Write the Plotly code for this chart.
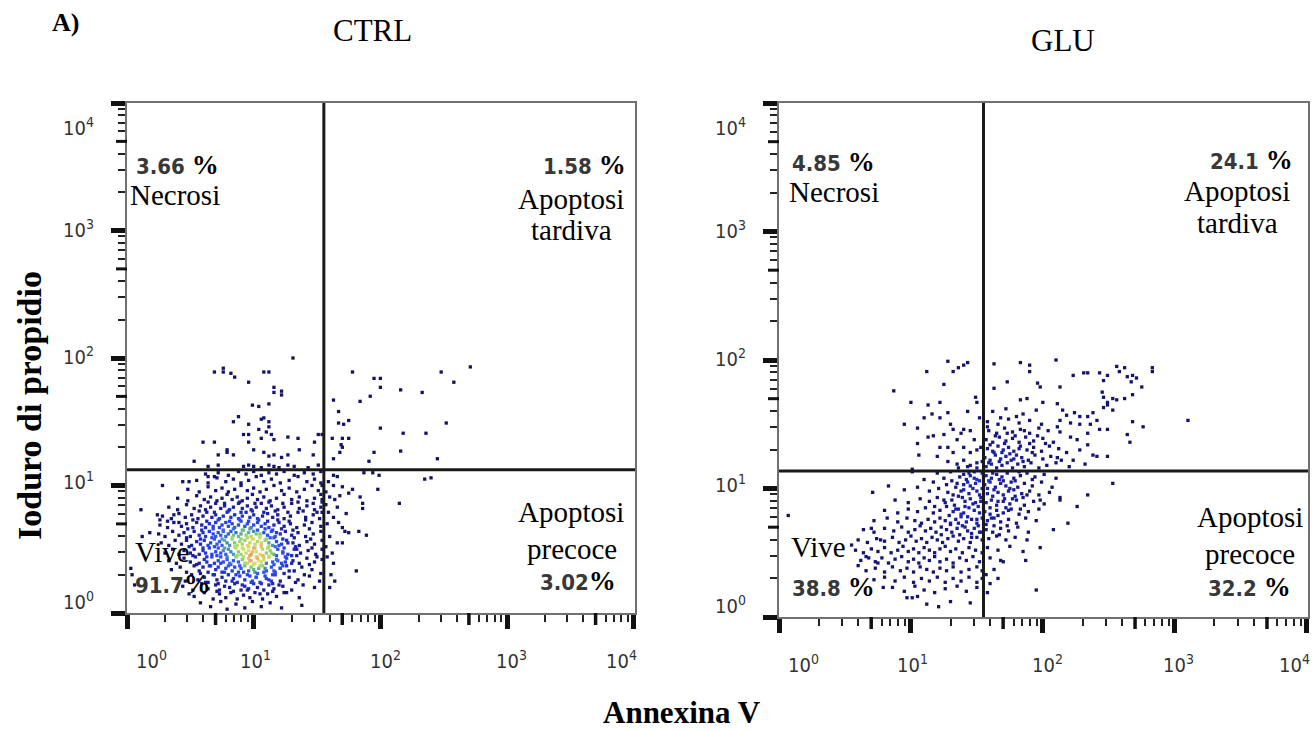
import numpy as np
import plotly.graph_objects as go

# Events as (log10 Annexin V, log10 propidium iodide), grouped by quadrant.
ctrl_ll = [
    (0.66,0.05),(0.74,0.09),(0.79,0.03),(0.86,0.07),(0.93,0.04),(0.99,0.09),(1.06,0.05),(1.13,0.08),(1.22,0.04),
    (0.53,0.13),(0.61,0.16),(0.68,0.11),(0.73,0.15),(0.78,0.12),(0.84,0.17),(0.87,0.11),(0.92,0.14),(0.97,0.12),(1.01,0.16),(1.07,0.11),(1.11,0.15),(1.18,0.13),(1.26,0.16),(1.36,0.12),
    (0.44,0.21),(0.52,0.18),(0.59,0.23),(0.64,0.19),(0.70,0.22),(0.73,0.18),(0.77,0.21),(0.81,0.20),(0.85,0.23),(0.90,0.18),(0.93,0.21),(0.96,0.19),(1.00,0.23),(1.03,0.20),(1.08,0.18),(1.12,0.22),(1.16,0.19),(1.23,0.21),(1.30,0.18),(1.39,0.22),(1.48,0.20),
    (0.39,0.27),(0.46,0.25),(0.51,0.30),(0.56,0.26),(0.61,0.28),(0.64,0.24),(0.68,0.30),(0.71,0.26),(0.75,0.28),(0.78,0.25),(0.80,0.30),(0.84,0.27),(0.87,0.24),(0.89,0.29),(0.93,0.26),(0.95,0.30),(0.99,0.25),(1.02,0.28),(1.05,0.24),(1.09,0.29),(1.12,0.26),(1.17,0.30),(1.21,0.25),(1.28,0.28),(1.35,0.26),(1.44,0.29),(1.52,0.25),
    (0.35,0.34),(0.42,0.36),(0.47,0.32),(0.53,0.37),(0.57,0.33),(0.60,0.36),(0.64,0.32),(0.66,0.37),(0.70,0.34),(0.72,0.36),(0.75,0.32),(0.78,0.35),(0.80,0.37),(0.83,0.33),(0.85,0.36),(0.88,0.32),(0.90,0.35),(0.93,0.37),(0.96,0.33),(0.98,0.36),(1.01,0.32),(1.04,0.35),(1.07,0.37),(1.10,0.33),(1.14,0.36),(1.17,0.32),(1.21,0.35),(1.26,0.37),(1.32,0.33),(1.38,0.36),(1.46,0.34),(1.53,0.31),
    (0.33,0.41),(0.39,0.39),(0.45,0.43),(0.50,0.40),(0.54,0.44),(0.57,0.39),(0.61,0.42),(0.63,0.40),(0.67,0.44),(0.69,0.39),(0.72,0.41),(0.74,0.44),(0.76,0.40),(0.79,0.42),(0.81,0.39),(0.84,0.41),(0.86,0.44),(0.88,0.40),(0.91,0.42),(0.93,0.39),(0.96,0.43),(0.98,0.41),(1.01,0.39),(1.03,0.43),(1.06,0.40),(1.08,0.42),(1.12,0.44),(1.15,0.40),(1.18,0.42),(1.22,0.39),(1.26,0.43),(1.31,0.41),(1.36,0.39),(1.42,0.43),(1.48,0.40),(1.54,0.42),
    (0.30,0.47),(0.36,0.50),(0.41,0.46),(0.45,0.49),(0.50,0.47),(0.53,0.50),(0.57,0.46),(0.60,0.49),(0.62,0.47),(0.65,0.51),(0.67,0.46),(0.70,0.48),(0.72,0.51),(0.74,0.47),(0.76,0.49),(0.78,0.46),(0.80,0.50),(0.82,0.48),(0.84,0.46),(0.86,0.51),(0.88,0.48),(0.90,0.46),(0.92,0.50),(0.94,0.47),(0.96,0.49),(0.98,0.46),(1.00,0.51),(1.02,0.48),(1.05,0.46),(1.07,0.50),(1.10,0.47),(1.13,0.49),(1.16,0.46),(1.19,0.50),(1.23,0.48),(1.27,0.46),(1.32,0.50),(1.37,0.47),(1.43,0.49),(1.49,0.46),(1.54,0.50),
    (0.27,0.55),(0.33,0.53),(0.38,0.57),(0.43,0.54),(0.47,0.57),(0.51,0.53),(0.55,0.56),(0.58,0.54),(0.61,0.57),(0.64,0.53),(0.66,0.55),(0.69,0.58),(0.71,0.54),(0.73,0.56),(0.75,0.53),(0.77,0.57),(0.79,0.55),(0.81,0.53),(0.83,0.58),(0.85,0.55),(0.87,0.53),(0.89,0.56),(0.91,0.54),(0.93,0.57),(0.95,0.53),(0.97,0.55),(0.99,0.58),(1.01,0.54),(1.03,0.56),(1.06,0.53),(1.09,0.57),(1.12,0.55),(1.15,0.53),(1.18,0.56),(1.22,0.54),(1.26,0.57),(1.31,0.55),(1.36,0.53),(1.42,0.56),(1.48,0.54),(1.54,0.57),
    (0.25,0.62),(0.30,0.60),(0.36,0.64),(0.41,0.61),(0.45,0.63),(0.50,0.60),(0.53,0.64),(0.57,0.61),(0.60,0.63),(0.62,0.60),(0.65,0.64),(0.68,0.62),(0.70,0.60),(0.72,0.63),(0.74,0.61),(0.76,0.64),(0.78,0.60),(0.80,0.62),(0.82,0.64),(0.84,0.61),(0.86,0.63),(0.88,0.60),(0.90,0.62),(0.92,0.65),(0.94,0.61),(0.96,0.63),(0.98,0.60),(1.00,0.64),(1.02,0.62),(1.05,0.60),(1.08,0.63),(1.11,0.61),(1.14,0.64),(1.17,0.60),(1.21,0.62),(1.25,0.64),(1.30,0.61),(1.35,0.63),(1.41,0.60),(1.47,0.62),(1.53,0.64),
    (0.26,0.69),(0.32,0.67),(0.37,0.71),(0.43,0.68),(0.47,0.70),(0.52,0.67),(0.55,0.71),(0.59,0.69),(0.62,0.67),(0.65,0.70),(0.68,0.68),(0.70,0.71),(0.73,0.67),(0.75,0.69),(0.78,0.71),(0.80,0.68),(0.83,0.70),(0.85,0.67),(0.88,0.69),(0.90,0.72),(0.93,0.68),(0.95,0.70),(0.98,0.67),(1.00,0.69),(1.03,0.71),(1.06,0.68),(1.09,0.70),(1.12,0.67),(1.16,0.69),(1.20,0.71),(1.24,0.68),(1.29,0.70),(1.34,0.67),(1.40,0.69),(1.46,0.71),(1.53,0.68),
    (0.28,0.76),(0.35,0.74),(0.41,0.78),(0.46,0.75),(0.51,0.77),(0.56,0.74),(0.60,0.76),(0.63,0.79),(0.67,0.75),(0.70,0.77),(0.73,0.74),(0.76,0.76),(0.79,0.79),(0.82,0.75),(0.85,0.77),(0.88,0.74),(0.91,0.76),(0.94,0.79),(0.97,0.75),(1.00,0.77),(1.03,0.74),(1.07,0.76),(1.11,0.78),(1.15,0.75),(1.19,0.77),(1.24,0.74),(1.29,0.76),(1.35,0.79),(1.41,0.75),(1.47,0.77),(1.52,0.74),(1.54,0.79),
    (0.33,0.83),(0.40,0.81),(0.47,0.85),(0.53,0.82),(0.58,0.84),(0.62,0.81),(0.66,0.83),(0.70,0.86),(0.74,0.82),(0.77,0.84),(0.81,0.81),(0.84,0.83),(0.88,0.86),(0.91,0.82),(0.95,0.84),(0.98,0.81),(1.02,0.83),(1.06,0.86),(1.10,0.82),(1.14,0.84),(1.19,0.81),(1.24,0.83),(1.30,0.86),(1.36,0.82),(1.42,0.84),(1.48,0.81),(1.53,0.83),(1.54,0.87),
    (0.40,0.90),(0.48,0.88),(0.55,0.92),(0.61,0.89),(0.66,0.91),(0.71,0.88),(0.75,0.90),(0.79,0.93),(0.83,0.89),(0.87,0.91),(0.91,0.88),(0.95,0.90),(0.99,0.93),(1.03,0.89),(1.08,0.91),(1.13,0.88),(1.18,0.90),(1.24,0.93),(1.30,0.89),(1.36,0.91),(1.42,0.88),(1.48,0.90),(1.53,0.93),(1.54,0.89),
    (0.48,0.97),(0.57,0.95),(0.64,0.99),(0.70,0.96),(0.75,0.98),(0.80,0.95),(0.85,0.97),(0.90,1.00),(0.95,0.96),(1.00,0.98),(1.05,0.95),(1.10,0.97),(1.16,1.00),(1.22,0.96),(1.28,0.98),(1.34,0.95),(1.40,0.97),(1.46,1.00),(1.51,0.96),(1.54,1.00),
    (0.55,1.04),(0.64,1.02),(0.71,1.06),(0.78,1.03),(0.84,1.05),(0.90,1.02),(0.96,1.04),(1.02,1.07),(1.08,1.03),(1.14,1.05),(1.21,1.02),(1.28,1.04),(1.35,1.07),(1.42,1.03),(1.48,1.05),(1.53,1.02),
    (0.62,1.09),(0.72,1.10),(0.80,1.08),(0.88,1.11),(0.94,1.09),(1.00,1.11),(1.06,1.08),(1.12,1.10),(1.18,1.09),(1.24,1.11),(1.32,1.08),(1.40,1.10),(1.47,1.09),(1.53,1.11),
    (0.11,0.81),(0.24,0.77),(0.26,0.73),(0.37,0.77),(0.41,0.71),(0.32,0.72),(0.28,1.00),(0.44,1.03),(0.49,1.03),(0.64,1.07),(0.69,1.07),(0.12,0.60),(0.18,0.63),(0.04,0.30),(0.06,0.22),(0.03,0.35),(1.38,0.06),(0.58,0.08),(0.49,0.15),
]
# denser core of the live population
ctrl_core = [
    (0.71,0.17),(0.82,0.16),(0.95,0.18),(1.05,0.15),(1.15,0.17),(1.24,0.16),
    (0.62,0.24),(0.72,0.23),(0.83,0.25),(0.91,0.22),(0.98,0.24),(1.06,0.23),(1.14,0.25),(1.20,0.22),(1.33,0.24),
    (0.58,0.31),(0.69,0.30),(0.77,0.32),(0.86,0.30),(0.92,0.32),(0.97,0.29),(1.03,0.31),(1.08,0.32),(1.15,0.30),(1.24,0.31),(1.40,0.30),
    (0.55,0.38),(0.65,0.37),(0.74,0.39),(0.82,0.38),(0.89,0.37),(0.95,0.39),(1.00,0.38),(1.05,0.37),(1.10,0.39),(1.16,0.38),(1.23,0.37),(1.30,0.39),(1.44,0.38),
    (0.52,0.45),(0.63,0.44),(0.71,0.45),(0.79,0.44),(0.87,0.45),(0.92,0.44),(0.97,0.45),(1.02,0.44),(1.07,0.45),(1.12,0.44),(1.18,0.45),(1.25,0.44),(1.34,0.45),(1.50,0.44),
    (0.49,0.52),(0.60,0.51),(0.69,0.52),(0.77,0.51),(0.85,0.52),(0.91,0.51),(0.96,0.52),(1.01,0.51),(1.06,0.52),(1.11,0.51),(1.17,0.52),(1.24,0.51),(1.33,0.52),(1.46,0.51),
    (0.47,0.59),(0.58,0.58),(0.67,0.59),(0.75,0.58),(0.83,0.59),(0.90,0.58),(0.95,0.59),(1.00,0.58),(1.05,0.59),(1.10,0.58),(1.16,0.59),(1.23,0.58),(1.32,0.59),(1.45,0.58),
    (0.48,0.66),(0.59,0.65),(0.68,0.66),(0.76,0.65),(0.84,0.66),(0.91,0.65),(0.97,0.66),(1.03,0.65),(1.09,0.66),(1.15,0.65),(1.22,0.66),(1.31,0.65),(1.44,0.66),
    (0.52,0.73),(0.63,0.72),(0.72,0.73),(0.81,0.72),(0.89,0.73),(0.96,0.72),(1.04,0.73),(1.11,0.72),(1.19,0.73),(1.28,0.72),(1.41,0.73),
    (0.57,0.80),(0.69,0.79),(0.80,0.80),(0.90,0.79),(0.99,0.80),(1.08,0.79),(1.17,0.80),(1.27,0.79),(1.39,0.80),(1.50,0.79),
    (0.64,0.87),(0.77,0.86),(0.89,0.87),(1.01,0.86),(1.12,0.87),(1.23,0.86),(1.35,0.87),(1.47,0.86),
    (1.04,0.41),(1.09,0.35),(1.14,0.47),(1.19,0.41),(1.00,0.34),(1.06,0.55),(1.13,0.59),(1.20,0.53),(1.25,0.40),(1.10,0.27),(1.16,0.33),(1.23,0.47),(0.99,0.48),
    (1.05,0.62),(1.18,0.63),(1.27,0.55),(1.02,0.28),(1.30,0.45),(1.12,0.52),(1.08,0.44),(0.97,0.41),(1.21,0.35),(1.15,0.23),(1.28,0.33),(1.34,0.50),
]
ctrl_ul = [
    (1.31,2.00),(0.69,1.89),(0.76,1.92),(0.76,1.89),(0.82,1.88),(0.85,1.85),(0.96,1.81),(1.08,1.89),(1.12,1.89),(1.16,1.77),(1.22,1.74),(1.22,1.71),(1.16,1.73),
    (0.99,1.63),(1.04,1.62),(1.12,1.64),(0.84,1.50),(0.88,1.54),(0.96,1.48),(1.06,1.52),(1.08,1.53),(1.12,1.50),(1.12,1.46),(1.04,1.44),(0.92,1.40),(0.96,1.40),
    (1.06,1.37),(1.10,1.42),(1.14,1.40),(1.16,1.36),(1.27,1.38),(1.35,1.37),(0.60,1.34),(0.69,1.34),(0.79,1.28),(0.79,1.26),(0.72,1.24),(0.84,1.24),(0.96,1.34),
    (1.00,1.28),(1.08,1.26),(1.12,1.23),(1.16,1.24),(1.22,1.22),(1.27,1.24),(1.36,1.28),(1.48,1.34),(1.51,1.40),(1.54,1.40),(1.47,1.24),(0.53,1.19),(0.64,1.15),
    (0.72,1.16),(0.92,1.15),(0.96,1.16),(1.00,1.15),(1.06,1.14),(1.12,1.16),(1.16,1.15),(1.20,1.14),(1.27,1.16),(1.32,1.15),(1.43,1.14),(1.51,1.16),
]
ctrl_ur = [
    (1.78,1.89),(1.95,1.84),(2.00,1.84),(2.00,1.77),(2.48,1.89),(2.71,1.93),(2.58,1.81),(2.16,1.75),(2.33,1.73),(1.63,1.67),(1.84,1.66),(1.92,1.70),(1.67,1.58),
    (1.67,1.49),(1.71,1.48),(1.75,1.51),(2.00,1.45),(2.18,1.41),(2.36,1.41),(2.52,1.49),(1.62,1.37),(1.70,1.37),(1.75,1.37),(1.69,1.32),(1.70,1.30),(1.68,1.26),
    (1.95,1.26),(2.16,1.27),(1.63,1.21),(1.91,1.19),(2.45,1.21),
]
ctrl_lr = [
    (1.87,1.10),(1.94,1.10),(1.99,1.08),(2.35,1.05),(2.40,1.06),(1.63,1.08),(1.66,1.07),(1.63,1.00),(1.70,0.99),(1.78,0.97),(1.75,0.94),(1.84,0.91),(1.86,0.86),
    (1.86,0.82),(1.98,0.97),(1.60,0.91),(1.64,0.89),(1.66,0.83),(2.15,0.86),(1.59,0.79),(1.63,0.75),(1.67,0.71),(1.70,0.67),(1.72,0.64),(1.75,0.63),(1.83,0.64),
    (1.89,0.61),(1.60,0.60),(1.66,0.55),(1.70,0.55),(1.62,0.47),(1.58,0.44),(1.63,0.39),(1.81,0.33),(1.64,0.25),(1.60,0.20),(1.57,0.95),(1.58,0.70),(1.57,0.52),
    (1.59,1.03),(1.61,0.30),(1.68,0.92),(1.73,0.78),(1.57,0.85),
]

glu_ll = [
    (1.21,0.08),(1.45,0.11),(0.97,0.15),(1.01,0.15),(1.05,0.16),(1.30,0.12),(1.12,0.10),
    (0.79,0.23),(0.86,0.23),(0.95,0.20),(1.03,0.24),(1.10,0.21),(1.18,0.19),(1.26,0.22),(1.35,0.24),(1.42,0.20),(1.50,0.23),
    (0.72,0.29),(0.80,0.31),(0.88,0.28),(0.95,0.31),(1.02,0.27),(1.08,0.30),(1.14,0.28),(1.20,0.31),(1.26,0.27),(1.32,0.30),(1.38,0.28),(1.44,0.31),(1.50,0.27),(1.54,0.30),
    (0.66,0.36),(0.73,0.38),(0.80,0.35),(0.86,0.39),(0.92,0.36),(0.97,0.38),(1.02,0.35),(1.07,0.39),(1.12,0.37),(1.17,0.35),(1.22,0.38),(1.27,0.36),(1.32,0.39),(1.38,0.35),(1.44,0.37),(1.50,0.39),(1.54,0.36),
    (0.62,0.44),(0.68,0.46),(0.73,0.43),(0.78,0.46),(0.83,0.42),(0.88,0.45),(0.93,0.47),(0.98,0.43),(1.02,0.45),(1.06,0.42),(1.10,0.46),(1.14,0.44),(1.18,0.47),(1.22,0.43),(1.27,0.45),(1.32,0.42),(1.37,0.46),(1.42,0.44),(1.47,0.47),(1.52,0.43),
    (0.58,0.52),(0.64,0.50),(0.70,0.53),(0.75,0.51),(0.80,0.54),(0.85,0.50),(0.90,0.52),(0.94,0.55),(0.98,0.51),(1.02,0.53),(1.06,0.50),(1.10,0.54),(1.14,0.52),(1.18,0.50),(1.22,0.53),(1.26,0.55),(1.30,0.51),(1.34,0.53),(1.39,0.50),(1.44,0.54),(1.49,0.52),(1.54,0.50),
    (0.60,0.60),(0.67,0.58),(0.74,0.61),(0.80,0.59),(0.86,0.62),(0.91,0.58),(0.96,0.60),(1.00,0.63),(1.04,0.59),(1.08,0.61),(1.12,0.58),(1.16,0.62),(1.20,0.60),(1.24,0.58),(1.28,0.61),(1.32,0.63),(1.36,0.59),(1.40,0.61),(1.45,0.58),(1.50,0.62),(1.54,0.60),
    (0.64,0.68),(0.72,0.66),(0.80,0.69),(0.87,0.67),(0.93,0.70),(0.98,0.66),(1.03,0.68),(1.07,0.71),(1.11,0.67),(1.15,0.69),(1.19,0.66),(1.23,0.70),(1.27,0.68),(1.31,0.66),(1.35,0.69),(1.39,0.71),(1.43,0.67),(1.48,0.69),(1.53,0.66),
    (0.72,0.75),(0.82,0.77),(0.90,0.74),(0.97,0.77),(1.03,0.75),(1.08,0.73),(1.13,0.76),(1.18,0.74),(1.22,0.77),(1.26,0.75),(1.30,0.73),(1.34,0.76),(1.38,0.78),(1.42,0.74),(1.46,0.76),(1.50,0.73),(1.54,0.77),
    (0.80,0.83),(0.90,0.81),(0.98,0.84),(1.05,0.82),(1.11,0.85),(1.17,0.81),(1.22,0.83),(1.27,0.86),(1.32,0.82),(1.36,0.84),(1.40,0.81),(1.44,0.85),(1.48,0.83),(1.52,0.81),(1.55,0.85),
    (0.88,0.91),(0.98,0.89),(1.07,0.92),(1.14,0.90),(1.20,0.93),(1.26,0.89),(1.31,0.91),(1.36,0.94),(1.41,0.90),(1.45,0.92),(1.49,0.89),(1.53,0.93),
    (0.71,0.97),(0.83,1.02),(0.95,0.99),(1.05,1.01),(1.14,0.98),(1.21,1.00),(1.28,0.97),(1.34,1.01),(1.40,0.99),(1.45,1.02),(1.50,0.98),(1.54,1.00),
    (1.10,1.07),(1.17,1.05),(1.25,1.08),(1.31,1.06),(1.37,1.09),(1.43,1.05),(1.48,1.08),(1.52,1.06),(1.55,1.09),
    (1.01,1.13),(1.20,1.12),(1.30,1.13),(1.40,1.11),(1.48,1.13),(1.54,1.12),
    (0.07,0.79),(0.70,0.69),(0.55,0.56),(0.66,0.47),(0.75,0.42),(0.77,0.60),(0.60,0.40),
    (1.37,0.64),(1.41,0.70),(1.46,0.65),(1.51,0.71),(1.38,0.80),(1.43,0.78),(1.47,0.88),(1.51,0.86),(1.39,0.93),(1.44,0.96),(1.49,1.04),(1.45,1.10),(1.40,1.03),
    (1.52,0.95),(1.33,0.87),(1.29,0.79),(1.25,0.91),(1.35,1.04),
    (1.30,0.72),(1.34,0.84),(1.38,0.98),(1.42,1.07),(1.46,0.62),(1.50,0.76),(1.53,0.90),(1.47,1.00),(1.41,0.86),(1.36,0.73),(1.32,0.95),(1.27,1.03),(1.44,1.12),
    (1.50,1.07),(1.23,0.64),(1.18,0.86),(1.52,0.66),
]
glu_ul = [
    (0.87,1.76),(1.12,1.91),(1.28,1.99),(1.32,1.91),(1.36,1.94),(1.40,1.96),(1.43,1.98),(1.25,1.81),(1.00,1.67),(1.13,1.65),(1.22,1.67),(1.16,1.58),(1.22,1.55),
    (1.28,1.59),(1.49,1.71),(1.50,1.67),(1.43,1.60),(1.05,1.47),(1.13,1.40),(1.17,1.41),(1.25,1.42),(1.32,1.46),(1.38,1.43),(1.40,1.46),(1.35,1.38),(1.05,1.35),
    (1.06,1.26),(1.22,1.32),(1.28,1.32),(1.32,1.28),(1.40,1.32),(1.45,1.28),(1.50,1.30),(1.53,1.32),(1.28,1.21),(1.35,1.19),(1.40,1.22),(1.45,1.18),(1.50,1.20),
    (1.54,1.21),(1.36,1.16),(1.43,1.17),(1.50,1.16),(1.01,1.15),(0.95,1.50),(1.10,1.55),(1.45,1.45),(1.52,1.55),(1.48,1.38),(1.20,1.25),(1.30,1.50),
]
glu_ur = [
    (1.63,1.97),(1.83,1.98),(1.90,1.96),(1.90,1.91),(2.10,2.00),(1.73,1.83),(1.63,1.78),(1.96,1.82),(1.98,1.79),(2.13,1.79),(2.23,1.88),(2.31,1.90),(2.34,1.90),
    (2.43,1.90),(2.46,1.84),(2.49,1.88),(2.56,1.95),(2.58,1.91),(2.62,1.94),(2.64,1.87),(2.67,1.83),(2.68,1.88),(2.71,1.86),(2.75,1.79),(2.83,1.94),(2.83,1.91),
    (1.83,1.69),(1.88,1.70),(2.00,1.67),(2.11,1.66),(2.45,1.75),(2.46,1.71),(2.49,1.67),(2.53,1.70),(2.56,1.69),(2.62,1.70),(2.68,1.73),(2.46,1.63),(2.49,1.65),
    (2.53,1.61),(2.68,1.52),(2.76,1.48),(2.66,1.36),(2.64,1.42),(3.10,1.53),
    (2.15,1.61),(2.18,1.57),(2.24,1.59),(2.28,1.56),(2.34,1.56),(2.38,1.59),(2.41,1.53),(2.21,1.51),(2.13,1.53),(2.11,1.48),(2.28,1.50),(2.36,1.50),(2.43,1.46),
    (2.49,1.46),(2.34,1.43),(2.26,1.38),(2.21,1.40),(2.13,1.44),(2.34,1.34),(2.38,1.26),(2.41,1.25),(2.49,1.25),(2.18,1.28),(2.11,1.24),(2.23,1.22),(2.28,1.30),
    (1.57,1.17),(1.61,1.19),(1.65,1.16),(1.69,1.18),(1.73,1.20),(1.77,1.16),(1.81,1.19),(1.86,1.17),(1.91,1.20),(1.97,1.16),(2.03,1.18),(2.10,1.20),(2.20,1.17),(2.32,1.19),
    (1.56,1.24),(1.60,1.22),(1.64,1.26),(1.68,1.23),(1.72,1.25),(1.76,1.22),(1.80,1.26),(1.84,1.24),(1.89,1.22),(1.94,1.26),(2.00,1.23),(2.06,1.25),(2.14,1.22),
    (1.58,1.31),(1.62,1.29),(1.66,1.33),(1.70,1.30),(1.74,1.32),(1.78,1.29),(1.83,1.33),(1.88,1.30),(1.93,1.32),(1.99,1.29),(2.05,1.33),(2.12,1.31),
    (1.57,1.38),(1.62,1.36),(1.67,1.40),(1.72,1.37),(1.77,1.39),(1.82,1.36),(1.87,1.40),(1.93,1.37),(2.00,1.39),(2.08,1.36),
    (1.59,1.45),(1.65,1.43),(1.71,1.47),(1.77,1.44),(1.83,1.46),(1.90,1.43),(1.97,1.47),(2.04,1.45),
    (1.58,1.52),(1.66,1.50),(1.74,1.54),(1.82,1.51),(1.90,1.53),(1.99,1.50),
    (1.62,1.60),(1.72,1.62),(1.85,1.58),(1.95,1.61),
    (1.59,1.20),(1.63,1.28),(1.67,1.21),(1.71,1.35),(1.75,1.27),(1.79,1.41),(1.85,1.21),(1.90,1.35),
    (1.60,1.34),(1.64,1.41),(1.69,1.28),(1.73,1.43),(1.78,1.23),(1.82,1.31),(1.86,1.45),(1.92,1.28),(1.96,1.41),(2.02,1.35),(1.58,1.48),(1.68,1.55),(1.80,1.56),
]
glu_lr = [
    (1.57,1.10),(1.61,1.08),(1.65,1.11),(1.69,1.09),(1.73,1.12),(1.78,1.08),(1.83,1.10),(1.88,1.12),(1.94,1.09),(2.01,1.11),(2.10,1.08),
    (1.56,1.03),(1.60,1.05),(1.64,1.01),(1.68,1.04),(1.72,1.02),(1.76,1.05),(1.81,1.01),(1.86,1.04),(1.92,1.02),(1.99,1.05),(2.07,1.01),(2.53,1.04),
    (1.58,0.96),(1.62,0.94),(1.66,0.97),(1.70,0.95),(1.74,0.98),(1.79,0.94),(1.84,0.96),(1.90,0.98),(1.97,0.95),(2.05,0.97),(2.34,0.95),
    (1.57,0.89),(1.61,0.91),(1.65,0.87),(1.70,0.90),(1.75,0.88),(1.80,0.91),(1.86,0.87),(1.93,0.90),(2.01,0.88),(2.13,0.91),
    (1.56,0.82),(1.60,0.80),(1.65,0.83),(1.70,0.81),(1.76,0.84),(1.82,0.80),(1.89,0.82),(1.97,0.84),(2.26,0.86),
    (1.58,0.75),(1.63,0.77),(1.68,0.74),(1.74,0.76),(1.80,0.73),(1.87,0.77),(1.95,0.75),(2.19,0.73),
    (1.57,0.68),(1.62,0.66),(1.68,0.69),(1.74,0.67),(1.81,0.70),(1.89,0.66),(2.08,0.68),
    (1.59,0.61),(1.65,0.63),(1.72,0.60),(1.79,0.62),(1.88,0.60),(1.98,0.54),
    (1.58,0.54),(1.66,0.52),(1.75,0.55),(1.85,0.51),(1.60,0.46),(1.68,0.44),(1.70,0.43),(1.87,0.44),
    (1.63,0.37),(1.57,0.33),(1.60,0.26),(1.95,0.21),(1.58,0.19),(1.66,0.30),
    (1.59,1.06),(1.63,0.99),(1.67,1.07),(1.71,0.92),(1.75,1.00),(1.79,1.06),(1.85,0.93),(1.60,0.85),(1.66,0.79),(1.72,0.85),(1.57,0.72),(1.63,0.71),(2.13,0.93),
    (1.58,1.00),(1.62,1.12),(1.66,0.90),(1.70,1.06),(1.74,0.83),(1.78,0.99),(1.82,1.13),(1.88,0.95),(1.61,0.77),(1.67,0.64),(1.73,0.71),(1.77,0.92),(1.83,0.84),
    (1.92,1.07),(1.98,0.91),
]

# Quadrant gates (Annexin V, PI) in fluorescence units
ctrl_gate = [35.8, 13.3]
glu_gate = [35.5, 13.7]

# Quadrant frequencies: UL, UR, LL, LR
ctrl_pct = ["3.66", "1.58", "91.7", "3.02"]
glu_pct = ["4.85", "24.1", "38.8", "32.2"]
ctrl_gap = [True, True, False, False]
glu_gap = [True, True, True, True]

panel_titles = ["CTRL", "GLU"]
decades = [0, 1, 2, 3, 4]
x_range = [0, 4.01]
y_range = [0, 4.0]

W, H = 1316, 731


def fx(px):
    return px / W


def fy(py):
    return 1 - py / H


def density(points, bw):
    p = np.asarray(points, dtype=float)
    d2 = ((p[:, None, :] - p[None, :, :]) ** 2).sum(-1)
    return np.exp(-d2 / (2 * bw * bw)).sum(1)


ctrl_all = ctrl_ll + ctrl_core + ctrl_ul + ctrl_ur + ctrl_lr
glu_all = glu_ll + glu_ul + glu_ur + glu_lr

# broad density sets the colour level, fine density adds pixel-scale speckle
broad_c, broad_g = density(ctrl_all, 0.06), density(glu_all, 0.06)
fine_c, fine_g = density(ctrl_all, 0.016), density(glu_all, 0.016)
b_top = broad_c.max()
f_ref = np.percentile(fine_c, 95)


def level(broad, fine):
    speckle = np.clip(fine / f_ref, 0, 1.3) - 0.55
    return np.clip(0.84 * broad / b_top + 0.22 * speckle * broad / b_top, 0, 1)


ctrl_level = level(broad_c, fine_c)
glu_level = level(broad_g, fine_g)

# FlowJo-like pseudocolour: navy for sparse events through blue, green, yellow
pseudo = [
    [0.0, "#12125e"], [0.30, "#15157a"], [0.46, "#1b22a8"], [0.60, "#2440ee"],
    [0.73, "#3358f2"], [0.79, "#74cf72"], [0.90, "#e4e266"], [1.0, "#ea7a66"],
]

fig = go.Figure()

for pts, lvl, xa, ya in [(ctrl_all, ctrl_level, "x", "y"), (glu_all, glu_level, "x2", "y2")]:
    arr = np.asarray(pts, dtype=float)
    order = np.argsort(lvl)
    fig.add_trace(go.Scatter(
        x=10 ** arr[order, 0], y=10 ** arr[order, 1], mode="markers",
        xaxis=xa, yaxis=ya, showlegend=False, hoverinfo="skip",
        marker=dict(symbol="square", size=3.3, color=lvl[order],
                    colorscale=pseudo, cmin=0, cmax=1, line=dict(width=0)),
    ))

axis_base = dict(
    type="log", showgrid=False, zeroline=False, showline=True, linecolor="#707070",
    linewidth=1.5, mirror=True, ticks="outside", ticklen=14, tickwidth=4.5,
    tickcolor="#111111", dtick=1, showticklabels=False,
    minor=dict(ticks="outside", ticklen=7, tickwidth=1.5, tickcolor="#222222",
               dtick="D1", showgrid=False),
)

fig.update_layout(
    width=W, height=H, margin=dict(l=0, r=0, t=0, b=0),
    paper_bgcolor="white", plot_bgcolor="white",
    xaxis=dict(axis_base, domain=[fx(127), fx(635)], range=x_range, anchor="y"),
    yaxis=dict(axis_base, domain=[fy(613), fy(103)], range=y_range, anchor="x"),
    xaxis2=dict(axis_base, domain=[fx(779), fx(1308)], range=x_range, anchor="y2"),
    yaxis2=dict(axis_base, domain=[fy(617), fy(103)], range=y_range, anchor="x2"),
)


def dom(v, rng):
    return (v - rng[0]) / (rng[1] - rng[0])


shapes = []
annotations = []
tick_font = dict(family="DejaVu Sans Condensed, DejaVu Sans", size=20, color="#333333")
x_label_shift = [24, 2, 5, 4, -12]
y_label_shift = [12, 5, 2, 2, -24]
half = np.log10(5)

for xa, ya in [("x", "y"), ("x2", "y2")]:
    # heavier ticks at 5 x 10^n
    for d in decades[:-1]:
        shapes.append(dict(type="line", xref=f"{xa} domain", yref=f"{ya} domain",
                           x0=dom(d + half, x_range), x1=dom(d + half, x_range),
                           y0=0, y1=-12, ysizemode="pixel", yanchor=0,
                           line=dict(color="#111111", width=3.5)))
        shapes.append(dict(type="line", xref=f"{xa} domain", yref=f"{ya} domain",
                           y0=dom(d + half, y_range), y1=dom(d + half, y_range),
                           x0=0, x1=-11, xsizemode="pixel", xanchor=0,
                           line=dict(color="#111111", width=3)))
    for i, d in enumerate(decades):
        label = f"10<sup>{d}</sup>"
        annotations.append(dict(text=label, xref=f"{xa} domain", yref=f"{ya} domain",
                                x=dom(d, x_range), y=0, xanchor="center", yanchor="middle",
                                xshift=x_label_shift[i], yshift=-47, showarrow=False,
                                font=tick_font))
        annotations.append(dict(text=label, xref=f"{xa} domain", yref=f"{ya} domain",
                                x=0, y=dom(d, y_range), xanchor="right", yanchor="middle",
                                xshift=-31, yshift=y_label_shift[i], showarrow=False,
                                font=tick_font))

# quadrant gates
for gate, xa, ya in [(ctrl_gate, "x", "y"), (glu_gate, "x2", "y2")]:
    gx = dom(np.log10(gate[0]), x_range)
    gy = dom(np.log10(gate[1]), y_range)
    shapes.append(dict(type="line", xref=f"{xa} domain", yref=f"{ya} domain",
                       x0=gx, x1=gx, y0=0, y1=1, line=dict(color="#1a1a1a", width=3)))
    shapes.append(dict(type="line", xref=f"{xa} domain", yref=f"{ya} domain",
                       x0=0, x1=1, y0=gy, y1=gy, line=dict(color="#1a1a1a", width=3)))

serif = "Liberation Serif, Times New Roman, serif"
word_font = dict(family=serif, size=29, color="#000000")
num_font = dict(family="DejaVu Sans Condensed, DejaVu Sans", size=22, color="#383838", weight="bold")


def pct_text(value, gap):
    sep = " " if gap else ""
    return (f"{value}{sep}<span style=\"font-family:'Liberation Serif', serif;font-weight:bold;"
            f"color:#000000;font-size:27px\">%</span>")


def text(t, x, y, font, xanchor="left", yanchor="middle", angle=0):
    annotations.append(dict(text=t, xref="paper", yref="paper", x=fx(x), y=fy(y),
                            xanchor=xanchor, yanchor=yanchor, showarrow=False,
                            font=font, textangle=angle))


# CTRL quadrant labels
text(pct_text(ctrl_pct[0], ctrl_gap[0]), 134, 165, num_font)
text("Necrosi", 128, 195, word_font)
text(pct_text(ctrl_pct[1], ctrl_gap[1]), 628, 165, num_font, xanchor="right")
text("Apoptosi", 571, 199, word_font, xanchor="center")
text("tardiva", 571, 230, word_font, xanchor="center")
text("Vive", 133, 552, word_font)
text(pct_text(ctrl_pct[2], ctrl_gap[2]), 133, 584, num_font)
text("Apoptosi", 571, 512, word_font, xanchor="center")
text("precoce", 572, 549, word_font, xanchor="center")
text(pct_text(ctrl_pct[3], ctrl_gap[3]), 618, 581, num_font, xanchor="right")

# GLU quadrant labels
text(pct_text(glu_pct[0], glu_gap[0]), 790, 162, num_font)
text("Necrosi", 787, 192, word_font)
text(pct_text(glu_pct[1], glu_gap[1]), 1295, 160, num_font, xanchor="right")
text("Apoptosi", 1237, 191, word_font, xanchor="center")
text("tardiva", 1237, 223, word_font, xanchor="center")
text("Vive", 789, 547, word_font)
text(pct_text(glu_pct[2], glu_gap[2]), 790, 587, num_font)
text("Apoptosi", 1250, 517, word_font, xanchor="center")
text("precoce", 1250, 554, word_font, xanchor="center")
text(pct_text(glu_pct[3], glu_gap[3]), 1293, 587, num_font, xanchor="right")

# titles and axis titles
text("<b>A)</b>", 65, 22, dict(family=serif, size=26, color="#000000"), xanchor="center")
text(panel_titles[0], 372, 31, dict(family=serif, size=31, color="#000000"), xanchor="center")
text(panel_titles[1], 1063, 40, dict(family=serif, size=31, color="#000000"), xanchor="center")
text("<b>Annexina V</b>", 682, 712, dict(family=serif, size=31, color="#000000"), xanchor="center")
text("<b>Ioduro di propidio</b>", 29, 406, dict(family=serif, size=34, color="#000000"),
     xanchor="center", angle=-90)

fig.update_layout(shapes=shapes, annotations=annotations)
fig.write_html("out.html")
